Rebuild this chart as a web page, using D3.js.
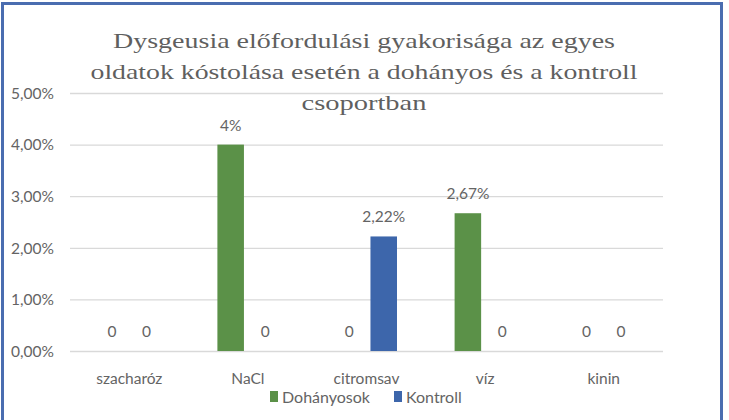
<!DOCTYPE html>
<html><head><meta charset="utf-8">
<script src="https://cdn.jsdelivr.net/npm/d3@7"></script>
<style>body{margin:0;background:#fff}svg{display:block}</style>
</head><body>
<script>
const categories = ["szacharóz", "NaCl", "citromsav", "víz", "kinin"];
const seriesNames = ["Dohányosok", "Kontroll"];
const dohanyosok = [0, 0.04, 0, 0.0267, 0];
const kontroll = [0, 0, 0.0222, 0, 0];
const yTicks = [0, 0.01, 0.02, 0.03, 0.04, 0.05];
const valueLabels = [["0","4%","0","2,67%","0"],["0","0","2,22%","0","0"]];
const titleLines = ["Dysgeusia előfordulási gyakorisága az egyes",
  "oldatok kóstolása esetén a dohányos és a kontroll", "csoportban"];
const colors = ["#5b9148", "#3d66ab"];

const W = 729, H = 420;
const svg = d3.select("body").append("svg").attr("width", W).attr("height", H);
const sans = "Lato";
const serif = "Tinos";
const gray = "#646464";

svg.append("rect").attr("x",2.5).attr("y",3.5).attr("width",719).attr("height",H+10)
  .attr("fill","#fff").attr("stroke","#4a6db0").attr("stroke-width",3);

const m = {l:70, r:W-663, t:93, b:H-351};
const x = d3.scaleBand().domain(categories).range([m.l, W-m.r]);
const xs = d3.scaleBand().domain(seriesNames).range([-17-13.5, 17+13.5]).paddingInner(0.23);
const y = d3.scaleLinear().domain([0, 0.05]).range([H-m.b, m.t]);

const fmt = v => d3.format(".2f")(v*100).replace(".", ",") + "%";

// grid
const yAxis = d3.axisLeft(y).tickValues(yTicks).tickSize(-(W-m.l-m.r)).tickFormat(fmt);
const gy = svg.append("g").attr("transform",`translate(${m.l},0)`).call(yAxis);
gy.select(".domain").remove();
gy.selectAll(".tick line").attr("stroke","#d9d9d9").attr("stroke-width",1.3);
gy.selectAll(".tick text").attr("x",-16).attr("dy","0.34em").attr("font-family",sans)
  .attr("font-size",15.5).attr("fill",gray);

// x axis labels
const gx = svg.append("g").attr("transform",`translate(0,${H-m.b})`)
  .call(d3.axisBottom(x).tickSize(0).tickPadding(22));
gx.select(".domain").remove();
gx.selectAll(".tick text").attr("font-family",sans).attr("font-size",15.5).attr("fill",gray);

// bars
const data = [dohanyosok, kontroll];
data.forEach((vals, si) => {
  const g = svg.append("g");
  g.selectAll("rect").data(vals).join("rect")
    .attr("x",(d,i)=>x(categories[i]) + x.bandwidth()/2 + xs(seriesNames[si]))
    .attr("width", xs.bandwidth())
    .attr("y", d=>y(d)).attr("height", d=>y(0)-y(d))
    .attr("fill", colors[si]);
  g.selectAll("text").data(vals).join("text")
    .attr("x",(d,i)=>x(categories[i]) + x.bandwidth()/2 + xs(seriesNames[si]) + xs.bandwidth()/2)
    .attr("y", d=>y(d)-14)
    .attr("text-anchor","middle").attr("font-family",sans).attr("font-size",15.5).attr("fill",gray)
    .text((d,i)=>valueLabels[si][i]);
});

// title (22px serif, widened with textLength to the reference line widths)
const titleWidths = [502, 547, 125];
const title = svg.append("g");
titleLines.forEach((t,i)=>{
  title.append("text").attr("x",364).attr("y",48+i*31).attr("text-anchor","middle")
    .attr("font-family",serif).attr("font-size",22).attr("fill","#5f5f5f")
    .attr("textLength",titleWidths[i]).attr("lengthAdjust","spacingAndGlyphs").text(t);
});

// legend
const leg = svg.append("g").attr("transform","translate(270,397)");
const items = [{n:seriesNames[0], c:colors[0], x:0},{n:seriesNames[1], c:colors[1], x:124}];
items.forEach(it=>{
  leg.append("rect").attr("x",it.x).attr("y",-6).attr("width",8).attr("height",11).attr("fill",it.c);
  leg.append("text").attr("x",it.x+12).attr("y",0).attr("dy","0.35em").attr("font-family",sans)
    .attr("font-size",16).attr("fill",gray).text(it.n);
});
</script>
</body></html>
